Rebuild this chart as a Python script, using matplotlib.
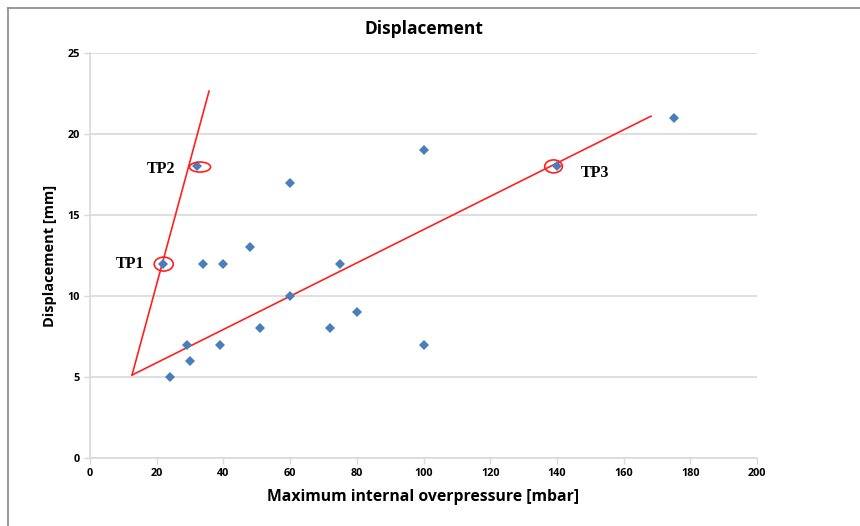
import matplotlib.pyplot as plt
from matplotlib.patches import Ellipse
from matplotlib.lines import Line2D

# data
pressure = [24, 29, 30, 39, 34, 40, 48, 51, 60, 60, 72, 75, 80, 100, 100, 140, 175, 22, 32]
displacement = [5, 7, 6, 7, 12, 12, 13, 8, 10, 17, 8, 12, 9, 19, 7, 18, 21, 12, 18]

# red trend lines (start, end)
line1_x = [12.6, 35.7]
line1_y = [5.12, 22.65]
line2_x = [12.6, 168.2]
line2_y = [5.12, 21.1]

# marked test points: label, centre, ellipse size, label position
tp_names = ['TP1', 'TP2', 'TP3']
tp_cx = [22.1, 33.0, 139.0]
tp_cy = [11.97, 17.96, 18.0]
tp_w = [5.7, 6.3, 5.3]
tp_h = [0.86, 0.62, 0.8]
tp_lx = [12.1, 21.3, 151.4]
tp_ly = [12.0, 17.85, 17.6]

fig = plt.figure(figsize=(8.6, 5.26), dpi=100)
ax = fig.add_axes([90/860, 1-458/526, (757-90)/860, (458-53)/526])

# gray frame around the chart area
fig.add_artist(Line2D([8/860, 8/860], [0, 1-8/526], color='#888888', lw=1.2))
fig.add_artist(Line2D([8/860, 1], [1-8/526, 1-8/526], color='#888888', lw=1.2))

ax.plot(line1_x, line1_y, color='#ff2020', lw=1.2, zorder=2)
ax.plot(line2_x, line2_y, color='#ff2020', lw=1.2, zorder=2)
ax.plot(pressure, displacement, 'D', color='#4a7ebb', ms=4.8, mew=0, zorder=3)

for i in range(len(tp_names)):
    ax.add_patch(Ellipse((tp_cx[i], tp_cy[i]), tp_w[i], tp_h[i], fill=False,
                         edgecolor='#ff2020', lw=1.2, zorder=4))
    ax.text(tp_lx[i], tp_ly[i], tp_names[i], family='Liberation Serif',
            fontweight='bold', fontsize=11.5, ha='center', va='center')

ax.set_xlim(0, 200)
ax.set_ylim(0, 25)
ax.set_xticks(range(0, 201, 20))
ax.set_yticks(range(0, 26, 5))
ax.grid(axis='y', color='#d9d9d9', lw=1.2)
ax.set_axisbelow(True)
for s in ['top', 'right']:
    ax.spines[s].set_visible(False)
for s in ['left', 'bottom']:
    ax.spines[s].set_color('#d9d9d9')
    ax.spines[s].set_linewidth(1.2)
ax.tick_params(colors='#d9d9d9', length=4, width=1, labelcolor='black', labelsize=7.8)
for lbl in ax.get_xticklabels() + ax.get_yticklabels():
    lbl.set_fontweight('bold')
    lbl.set_family('Open Sans')

ax.set_title('Displacement', fontsize=12.5, fontweight='bold', family='Open Sans', pad=14)
ax.set_xlabel('Maximum internal overpressure [mbar]', fontsize=11.3, fontweight='bold',
              family='Open Sans', labelpad=7)
ax.set_ylabel('Displacement [mm]', fontsize=10.5, fontweight='bold', family='Open Sans',
              labelpad=7)

fig.savefig('out.png', dpi=100)
